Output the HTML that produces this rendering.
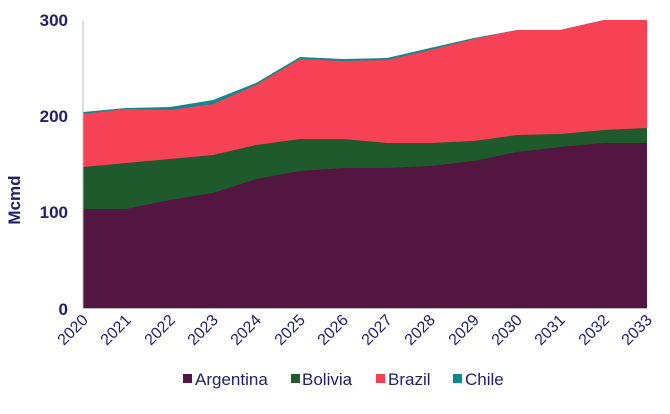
<!DOCTYPE html>
<html><head><meta charset="utf-8"><style>
body{margin:0;background:#fff;width:670px;height:409px;overflow:hidden}
text{font-family:"Liberation Sans",Arial,sans-serif;fill:#1f1f6b}
</style></head><body>
<svg width="670" height="409" viewBox="0 0 670 409">
<polygon fill="#0e8a8c" points="83,112 126,108 170,107 213,100 256,83 300,57 343,59 387,58 430,48 474,38 517,30 560,30 604,20 647,20 647,308 83,308"/>
<polygon fill="#f64254" points="83,114 126,109 170,110 213,104 256,85 300,59 343,61 387,60 430,50 474,39 517,30 560,30 604,20 647,20 647,308 83,308"/>
<polygon fill="#1f5a2c" points="83,167 126,163 170,159 213,155 256,145 300,139 343,139 387,143 430,143 474,141 517,135 560,134 604,130 647,128 647,308 83,308"/>
<polygon fill="#521640" points="83,209 126,209 170,200 213,193 256,179 300,171 343,168 387,168 430,166 474,161 517,152 560,147 604,143 647,143 647,308 83,308"/>
<line x1="83" y1="21" x2="83" y2="308" stroke="#bbb" stroke-width="1"/>
<line x1="83" y1="308.5" x2="647" y2="308.5" stroke="#bbb" stroke-width="1"/>
<g font-size="17" font-weight="bold" text-anchor="end">
<text x="68" y="26">300</text><text x="68" y="122">200</text><text x="68" y="218">100</text><text x="68" y="315">0</text>
</g>
<text transform="translate(20,200) rotate(-90)" font-size="17" font-weight="bold" text-anchor="middle">Mcmd</text>
<g font-size="16" text-anchor="end">
<text transform="translate(89,321) rotate(-45)">2020</text>
<text transform="translate(132,321) rotate(-45)">2021</text>
<text transform="translate(176,321) rotate(-45)">2022</text>
<text transform="translate(219,321) rotate(-45)">2023</text>
<text transform="translate(262,321) rotate(-45)">2024</text>
<text transform="translate(306,321) rotate(-45)">2025</text>
<text transform="translate(349,321) rotate(-45)">2026</text>
<text transform="translate(393,321) rotate(-45)">2027</text>
<text transform="translate(436,321) rotate(-45)">2028</text>
<text transform="translate(480,321) rotate(-45)">2029</text>
<text transform="translate(523,321) rotate(-45)">2030</text>
<text transform="translate(566,321) rotate(-45)">2031</text>
<text transform="translate(610,321) rotate(-45)">2032</text>
<text transform="translate(653,321) rotate(-45)">2033</text>
</g>
<g font-size="17">
<rect x="183" y="374" width="9" height="9" fill="#521640"/><text x="195" y="385">Argentina</text>
<rect x="291" y="374" width="9" height="9" fill="#1f5a2c"/><text x="302" y="385">Bolivia</text>
<rect x="376" y="374" width="9" height="9" fill="#f64254"/><text x="388" y="385">Brazil</text>
<rect x="453" y="374" width="9" height="9" fill="#0e8a8c"/><text x="465" y="385">Chile</text>
</g>
</svg>
</body></html>
